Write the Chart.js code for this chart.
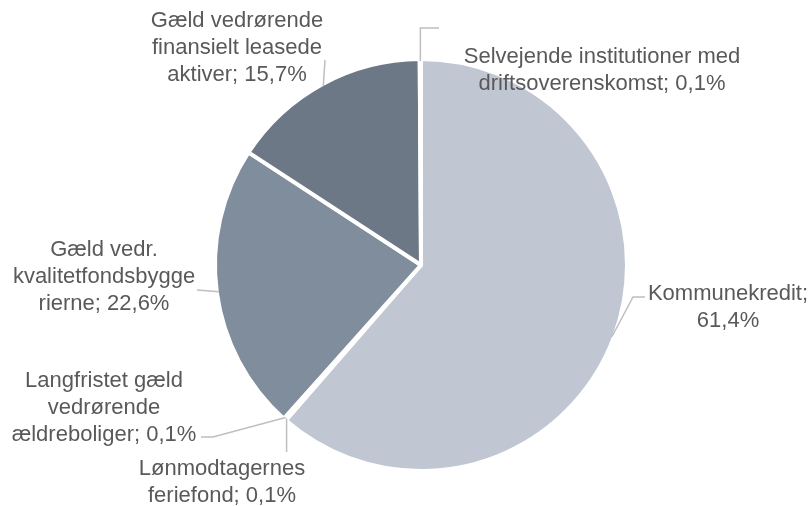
<!DOCTYPE html>
<html>
<head>
<meta charset="utf-8">
<script src="https://cdn.jsdelivr.net/npm/chart.js@4"></script>
<style>
  html, body { margin: 0; padding: 0; background: #ffffff; }
  canvas { display: block; }
</style>
</head>
<body>
<canvas id="c" width="812" height="506"></canvas>
<script>
// ---- Data ----
const categories = [
  "Kommunekredit",
  "Lønmodtagernes feriefond",
  "Langfristet gæld vedrørende ældreboliger",
  "Gæld vedr. kvalitetfondsbyggerierne",
  "Gæld vedrørende finansielt leasede aktiver",
  "Selvejende institutioner med driftsoverenskomst"
];
const shares = [61.4, 0.1, 0.1, 22.6, 15.7, 0.1];
const labelLines = [
  ["Kommunekredit;", "61,4%"],
  ["Lønmodtagernes", "feriefond; 0,1%"],
  ["Langfristet gæld", "vedrørende", "ældreboliger; 0,1%"],
  ["Gæld vedr.", "kvalitetfondsbygge", "rierne; 22,6%"],
  ["Gæld vedrørende", "finansielt leasede", "aktiver; 15,7%"],
  ["Selvejende institutioner med", "driftsoverenskomst; 0,1%"]
];

// ---- Styles / placement (not data) ----
const sliceColors = ["#c0c7d2", "#a9b2be", "#95a0ad", "#808d9c", "#6c7886", "#b0b8c3"];
const TEXT_COLOR = "#595959";
const LEADER_COLOR = "#bfbfbf";
const FONT = "22px 'Liberation Sans', Arial, sans-serif";
const LINE_H = 27;
// text: center x, first baseline y ; leader: extra points after arc anchor
const labelPlacement = [
  { x: 728, y: 300, leader: [[633, 297], [645, 297]] },
  { x: 222, y: 475, leader: [[null, 452]] },
  { x: 104, y: 387, leader: [[213, 437], [201, 437]] },
  { x: 104, y: 256, leader: [[197, 290]] },
  { x: 237, y: 27,  leader: [[325, 60]] },
  { x: 602, y: 63,  leader: [[null, 28], [439, 28]] }
];

const labelPlugin = {
  id: 'pieLabels',
  afterDatasetsDraw(chart) {
    const ctx = chart.ctx;
    const meta = chart.getDatasetMeta(0);
    ctx.save();
    meta.data.forEach((arc, i) => {
      const p = arc.getProps(['x', 'y', 'startAngle', 'endAngle', 'outerRadius'], true);
      const mid = (p.startAngle + p.endAngle) / 2;
      const r = p.outerRadius - 2;
      const ax = p.x + Math.cos(mid) * r;
      const ay = p.y + Math.sin(mid) * r;
      const pl = labelPlacement[i];
      ctx.strokeStyle = LEADER_COLOR;
      ctx.lineWidth = 1.5;
      ctx.beginPath();
      ctx.moveTo(ax, ay);
      let lx = ax;
      pl.leader.forEach(pt => {
        const px = pt[0] === null ? lx : pt[0];
        ctx.lineTo(px, pt[1]);
        lx = px;
      });
      ctx.stroke();
      ctx.fillStyle = TEXT_COLOR;
      ctx.font = FONT;
      ctx.textAlign = 'center';
      ctx.textBaseline = 'alphabetic';
      labelLines[i].forEach((t, k) => {
        ctx.fillText(t, pl.x, pl.y + k * LINE_H);
      });
    });
    ctx.restore();
  }
};

new Chart(document.getElementById('c'), {
  type: 'pie',
  data: {
    labels: categories,
    datasets: [{
      data: shares,
      backgroundColor: sliceColors,
      borderColor: '#ffffff',
      borderWidth: 4,
      radius: 206
    }]
  },
  options: {
    responsive: false,
    animation: false,
    devicePixelRatio: 1,
    layout: { padding: { left: 30, right: 0, top: 24, bottom: 0 } },
    plugins: {
      legend: { display: false },
      tooltip: { enabled: false }
    }
  },
  plugins: [labelPlugin]
});
</script>
</body>
</html>
